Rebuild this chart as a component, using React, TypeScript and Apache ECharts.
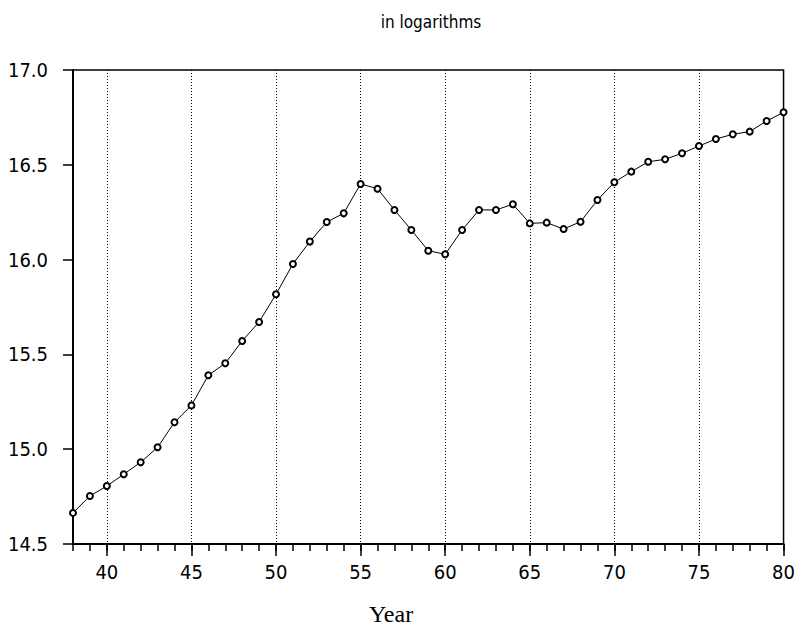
import React, { useEffect, useRef } from "react";
import * as echarts from "echarts";

const years: number[] = [
  38, 39, 40, 41, 42, 43, 44, 45, 46, 47, 48, 49, 50, 51, 52, 53, 54, 55, 56, 57, 58,
  59, 60, 61, 62, 63, 64, 65, 66, 67, 68, 69, 70, 71, 72, 73, 74, 75, 76, 77, 78, 79, 80,
];
const values: number[] = [
  14.664, 14.753, 14.806, 14.868, 14.931, 15.01, 15.142, 15.231, 15.39, 15.453, 15.571,
  15.671, 15.817, 15.977, 16.095, 16.198, 16.244, 16.399, 16.374, 16.262, 16.156, 16.047,
  16.028, 16.156, 16.262, 16.262, 16.292, 16.191, 16.195, 16.161, 16.2, 16.314, 16.408,
  16.464, 16.516, 16.529, 16.561, 16.599, 16.636, 16.661, 16.675, 16.731, 16.777,
];
const titleText = "in logarithms";
const xAxisTitle = "Year";
const majorStep = 5;
const yMin = 14.5;
const yMax = 17.0;
const yStep = 0.5;

const narrow = "'DejaVu Sans Condensed', 'DejaVu Sans', sans-serif";

export default function App() {
  const ref = useRef<HTMLDivElement>(null);
  useEffect(() => {
    if (!ref.current) return;
    const chart = echarts.init(ref.current, null, { renderer: "svg" });
    const cats = years.map(String);
    const isMajor = (_i: number, v: string) => Number(v) % majorStep === 0;
    chart.setOption({
      animation: false,
      backgroundColor: "#fff",
      grid: {
        left: 73,
        right: 6,
        top: 70,
        bottom: 84,
        show: true,
        borderColor: "#000",
        borderWidth: 1.5,
        backgroundColor: "transparent",
      },
      xAxis: [
        {
          type: "category",
          data: cats,
          boundaryGap: false,
          position: "bottom",
          axisLine: { show: true, onZero: false, lineStyle: { color: "#000", width: 2 } },
          axisTick: { show: true, interval: 0, length: 7, lineStyle: { color: "#000", width: 1.5 } },
          axisLabel: { show: false },
          splitLine: { show: false },
        },
        {
          type: "category",
          data: cats,
          boundaryGap: false,
          position: "bottom",
          axisLine: { show: false, onZero: false },
          axisTick: { show: true, interval: isMajor, length: 12, lineStyle: { color: "#000", width: 1.5 } },
          axisLabel: {
            show: true,
            interval: isMajor,
            margin: 18,
            color: "#000",
            fontFamily: narrow,
            fontSize: 20,
          },
          splitLine: {
            show: true,
            interval: isMajor,
            lineStyle: { color: "#000", width: 1, type: [1, 2] },
          },
        },
      ],
      yAxis: {
        type: "value",
        min: yMin,
        max: yMax,
        interval: yStep,
        axisLine: { show: true, onZero: false, lineStyle: { color: "#000", width: 2 } },
        axisTick: { show: true, length: 10, lineStyle: { color: "#000", width: 1.5 } },
        axisLabel: {
          margin: 25,
          color: "#000",
          fontFamily: narrow,
          fontSize: 20,
          formatter: (v: number) => v.toFixed(1),
        },
        splitLine: { show: false },
      },
      graphic: [
        {
          type: "text",
          x: 431,
          y: 22,
          style: {
            text: titleText,
            fill: "#000",
            font: `17px ${narrow}`,
            textAlign: "center",
            textVerticalAlign: "middle",
          },
        },
        {
          type: "text",
          x: 391,
          y: 614,
          style: {
            text: xAxisTitle,
            fill: "#000",
            font: "24px 'Liberation Serif', serif",
            textAlign: "center",
            textVerticalAlign: "middle",
          },
        },
      ],
      series: [
        {
          type: "line",
          xAxisIndex: 0,
          data: values,
          symbol: "emptyCircle",
          symbolSize: 6,
          lineStyle: { color: "#000", width: 1 },
          itemStyle: { color: "#000", borderColor: "#000", borderWidth: 1 },
          silent: true,
        },
      ],
    });
    return () => chart.dispose();
  }, []);
  return (
    <div
      ref={ref}
      style={{ position: "fixed", left: 0, top: 0, width: 798, height: 628, background: "#fff" }}
    />
  );
}
